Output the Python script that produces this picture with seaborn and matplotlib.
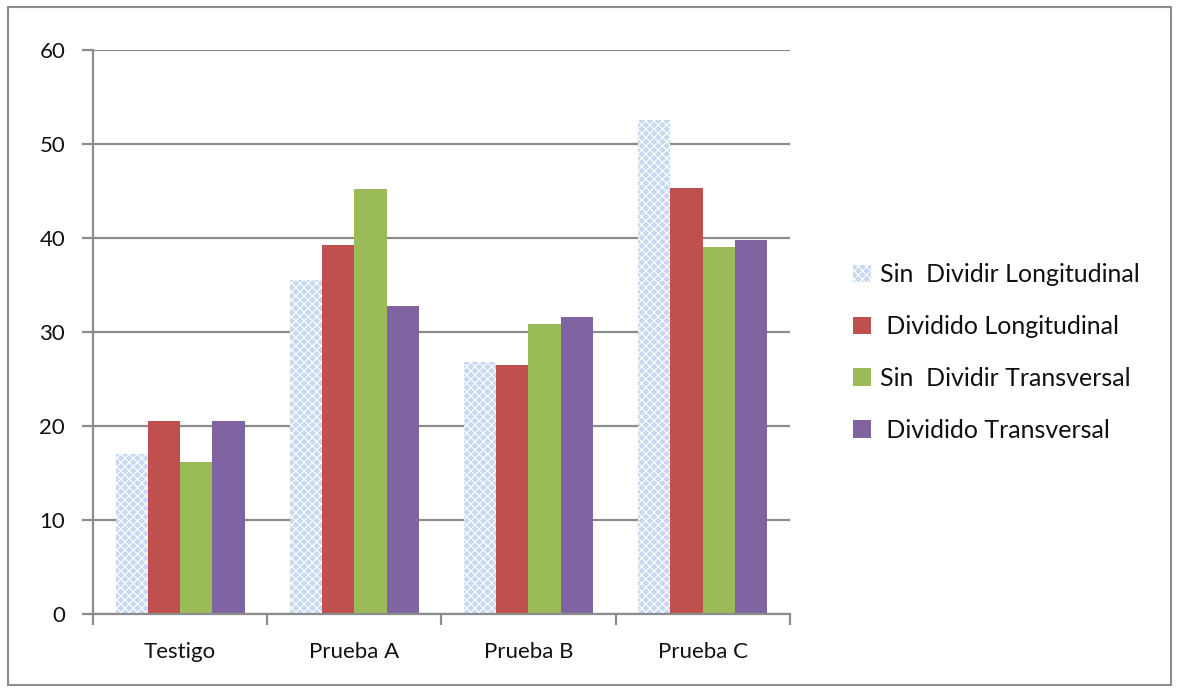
import matplotlib
matplotlib.use("Agg")
import matplotlib.pyplot as plt
import matplotlib.patches as mpatches
import pandas as pd
import seaborn as sns

CATEGORIES = ["Testigo", "Prueba A", "Prueba B", "Prueba C"]
SERIES = ["Sin  Dividir Longitudinal", " Dividido Longitudinal",
          "Sin  Dividir Transversal", " Dividido Transversal"]
SIN_DIV_LONG = [17.0, 35.5, 26.8, 52.5]
DIV_LONG = [20.5, 39.2, 26.5, 45.3]
SIN_DIV_TRANS = [16.2, 45.2, 30.8, 39.0]
DIV_TRANS = [20.5, 32.8, 31.6, 39.8]
COLORS = ["#c6d9f1", "#c0504d", "#9bbb59", "#8064a2"]

values = [SIN_DIV_LONG, DIV_LONG, SIN_DIV_TRANS, DIV_TRANS]
df = pd.DataFrame(
    [(c, s, v[i]) for s, v in zip(SERIES, values) for i, c in enumerate(CATEGORIES)],
    columns=["cat", "serie", "valor"],
)

sns.set_theme(style="white")
plt.rcParams["font.family"] = ["Lato", "DejaVu Sans"]
plt.rcParams["hatch.color"] = "white"
plt.rcParams["hatch.linewidth"] = 0.8
plt.rcParams["text.color"] = "#111111"
plt.rcParams["xtick.color"] = "#111111"
plt.rcParams["ytick.color"] = "#111111"

fig = plt.figure(figsize=(11.77, 6.91), dpi=100)
ax = fig.add_axes([0.079, 0.111, 0.592, 0.817])

sns.barplot(data=df, x="cat", y="valor", hue="serie", hue_order=SERIES,
            order=CATEGORIES, palette=COLORS, width=0.74, saturation=1,
            edgecolor="none", linewidth=0, ax=ax, legend=True)

# first series gets the light blue crosshatch fill
for bar in ax.containers[0]:
    bar.set_hatch("xxxx")
    bar.set_edgecolor("white")
    bar.set_linewidth(0)

ax.set_ylim(0, 60)
ax.set_yticks(range(0, 61, 10))
ax.set_xlim(-0.5, 3.5)
ax.set_xlabel("")
ax.set_ylabel("")
ax.yaxis.grid(True, color="#8c8c8c", linewidth=1.6)
ax.set_axisbelow(True)
for side in ["top", "right"]:
    ax.spines[side].set_visible(False)
for side in ["left", "bottom"]:
    ax.spines[side].set_color("#8c8c8c")
    ax.spines[side].set_linewidth(1.6)
ax.tick_params(axis="y", which="both", left=True, length=8, width=1.6,
               color="#8c8c8c", labelcolor="#111111", labelsize=16, pad=12)
ax.set_xticks([0, 1, 2, 3])
ax.set_xticks([-0.5, 0.5, 1.5, 2.5, 3.5], minor=True)
ax.tick_params(axis="x", which="major", bottom=False, labelcolor="#111111",
               labelsize=16, pad=14)
ax.tick_params(axis="x", which="minor", bottom=True, length=8, width=1.6,
               color="#8c8c8c")

handles, labels = ax.get_legend_handles_labels()
ax.get_legend().remove()
legend_handles = []
for i, lab in enumerate(labels):
    h = mpatches.Patch(facecolor=COLORS[i], edgecolor="white" if i == 0 else "none",
                       linewidth=0, hatch="xxxx" if i == 0 else None)
    legend_handles.append(h)
fig.legend(legend_handles, labels, loc="center left",
           bbox_to_anchor=(0.706, 0.49), frameon=False, fontsize=18,
           handlelength=0.7, handleheight=0.7, handletextpad=0.35,
           labelspacing=1.15)

fig.patches.append(mpatches.Rectangle((0.007, 0.008), 0.988, 0.982,
                                      transform=fig.transFigure, fill=False,
                                      edgecolor="#8c8c8c", linewidth=1.5))

fig.savefig("out.png", dpi=100)
